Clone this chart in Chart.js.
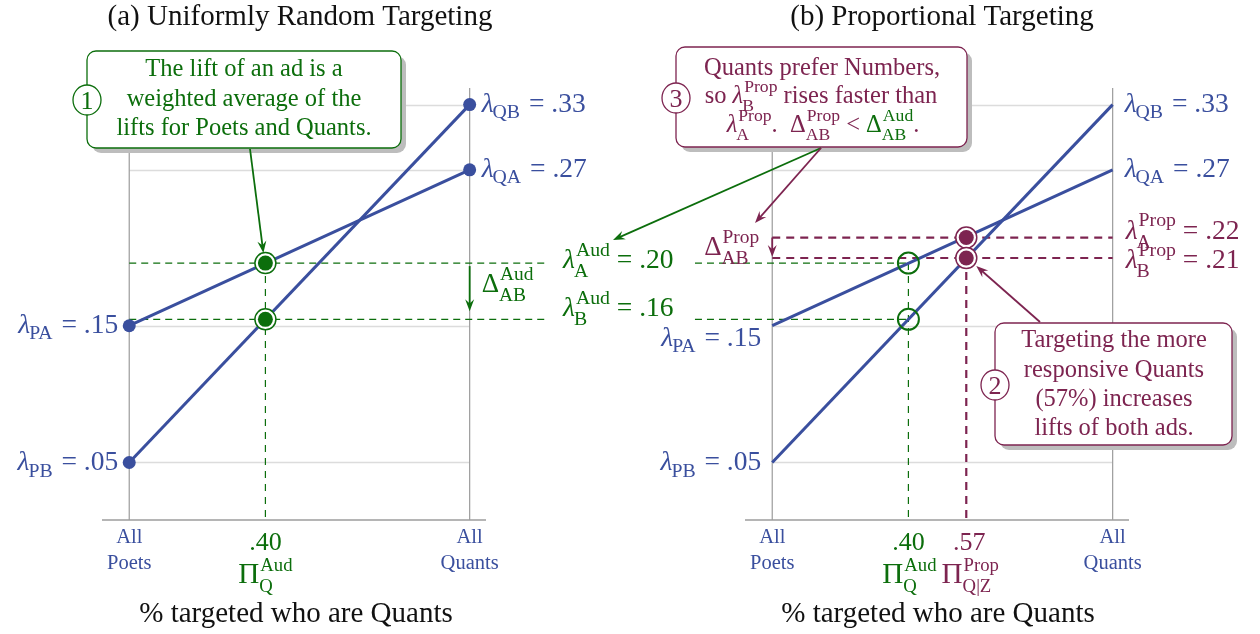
<!DOCTYPE html>
<html>
<head>
<meta charset="utf-8">
<script src="https://cdn.jsdelivr.net/npm/chart.js@4.4.0/dist/chart.umd.min.js"></script>
<style>
html, body { margin: 0; padding: 0; background: #fff; }
#wrap { position: relative; width: 1260px; height: 634px; overflow: hidden; }
canvas { position: absolute; left: 0; top: 0; }
</style>
</head>
<body>
<div id="wrap">
<canvas id="chartA" width="1260" height="634"></canvas>
<canvas id="chartB" width="1260" height="634"></canvas>
</div>
<script>
// share of Quants among the targeted: 0 = all Poets, 1 = all Quants
var shareEnds = [0, 1];
// lift of ad A and ad B at the two ends (as drawn)
var liftA = [0.157, 0.279];   // lambda_PA, lambda_QA
var liftB = [0.05, 0.33];     // lambda_PB, lambda_QB
var liftALabels = ['.15', '.27'];
var liftBLabels = ['.05', '.33'];

// audience (uniform) targeting
var audShare = 0.40;
var audLift = [0.206, 0.162];   // A, B
var audLabels = ['.20', '.16'];

// proportional targeting
var propShare = 0.57;
var propLift = [0.226, 0.21];   // A, B
var propLabels = ['.22', '.21'];

var yMin = 0.005, yMax = 0.343;
var xMin = -0.08, xMax = 1.048;

var BLUE = '#3a4f9e', GREEN = '#0c6e0c', MAROON = '#7d2450';
var GRID = '#dcdcdc', AXIS = '#9c9c9c';
var SERIF = '"Liberation Serif", "DejaVu Serif", serif';

function fnt(size, it) {
    return (it ? 'italic ' : '') + size + 'px ' + SERIF;
}

// draws text runs with optional sub/superscripts, y is the baseline
function mathRun(ctx, parts, x, y, size, color, align) {
    var ss = size * 0.72, w = 0, dims = [];
    for (var i = 0; i < parts.length; i++) {
        var p = parts[i];
        ctx.font = fnt(p.big ? size * 1.12 : size, p.it);
        var mw = ctx.measureText(p.t).width;
        ctx.font = fnt(ss, false);
        var sw = Math.max(p.sub ? ctx.measureText(p.sub).width : 0, p.sup ? ctx.measureText(p.sup).width : 0);
        if (p.sub || p.sup) sw += 1;
        dims.push([mw, sw]);
        w += mw + sw;
    }
    var cx = align === 'right' ? x - w : (align === 'center' ? x - w / 2 : x);
    ctx.textAlign = 'left';
    ctx.textBaseline = 'alphabetic';
    for (var i = 0; i < parts.length; i++) {
        var p = parts[i];
        ctx.fillStyle = p.color || color;
        ctx.font = fnt(p.big ? size * 1.12 : size, p.it);
        ctx.fillText(p.t, cx, y);
        cx += dims[i][0];
        ctx.font = fnt(ss, false);
        if (p.sub) ctx.fillText(p.sub, cx + (p.it ? -1 : 0), y + (p.sup ? 0.33 : 0.24) * size);
        if (p.sup) ctx.fillText(p.sup, cx + 1, y - 0.45 * size);
        cx += dims[i][1];
    }
    return w;
}

function text(ctx, s, x, y, size, color, align) {
    ctx.font = fnt(size, false);
    ctx.fillStyle = color;
    ctx.textAlign = align || 'center';
    ctx.textBaseline = 'alphabetic';
    ctx.fillText(s, x, y);
}

function arrow(ctx, x1, y1, x2, y2, color, lw) {
    var a = Math.atan2(y2 - y1, x2 - x1), L = 12, W = 4.5;
    var c = Math.cos(a), s = Math.sin(a);
    ctx.save();
    ctx.strokeStyle = color;
    ctx.fillStyle = color;
    ctx.lineWidth = lw || 1.6;
    ctx.setLineDash([]);
    ctx.beginPath();
    ctx.moveTo(x1, y1);
    ctx.lineTo(x2 - c * L * 0.6, y2 - s * L * 0.6);
    ctx.stroke();
    ctx.beginPath();
    ctx.moveTo(x2, y2);
    ctx.lineTo(x2 - c * L - s * W, y2 - s * L + c * W);
    ctx.lineTo(x2 - c * L * 0.65, y2 - s * L * 0.65);
    ctx.lineTo(x2 - c * L + s * W, y2 - s * L - c * W);
    ctx.closePath();
    ctx.fill();
    ctx.restore();
}

function roundRect(ctx, x, y, w, h, r) {
    ctx.beginPath();
    ctx.moveTo(x + r, y);
    ctx.lineTo(x + w - r, y);
    ctx.arcTo(x + w, y, x + w, y + r, r);
    ctx.lineTo(x + w, y + h - r);
    ctx.arcTo(x + w, y + h, x + w - r, y + h, r);
    ctx.lineTo(x + r, y + h);
    ctx.arcTo(x, y + h, x, y + h - r, r);
    ctx.lineTo(x, y + r);
    ctx.arcTo(x, y, x + r, y, r);
    ctx.closePath();
}

function callout(ctx, x, y, w, h, color, num, cy) {
    ctx.save();
    ctx.fillStyle = '#bdbdbd';
    roundRect(ctx, x + 5, y + 5, w, h, 9);
    ctx.fill();
    ctx.fillStyle = '#fff';
    ctx.strokeStyle = color;
    ctx.lineWidth = 1.3;
    roundRect(ctx, x, y, w, h, 9);
    ctx.fill();
    ctx.stroke();
    ctx.beginPath();
    ctx.ellipse(x, cy, 14, 15, 0, 0, Math.PI * 2);
    ctx.fill();
    ctx.stroke();
    text(ctx, num, x, cy + 9, 26, color);
    ctx.restore();
}

function axesPlugin() {
    return {
        id: 'axesDraw',
        beforeDatasetsDraw: function (chart) {
            var ctx = chart.ctx, xs = chart.scales.x, ys = chart.scales.y, ca = chart.chartArea;
            var x0 = xs.getPixelForValue(shareEnds[0]), x1 = xs.getPixelForValue(shareEnds[1]);
            var grid = [liftB[1], liftA[1], liftA[0], liftB[0]];
            ctx.save();
            ctx.strokeStyle = GRID;
            ctx.lineWidth = 1.3;
            for (var i = 0; i < grid.length; i++) {
                var y = Math.round(ys.getPixelForValue(grid[i])) + 0.5;
                ctx.beginPath();
                ctx.moveTo(x0, y);
                ctx.lineTo(x1, y);
                ctx.stroke();
            }
            ctx.strokeStyle = AXIS;
            ctx.lineWidth = 1.2;
            [x0, x1].forEach(function (x) {
                ctx.beginPath();
                ctx.moveTo(x, ca.top);
                ctx.lineTo(x, ca.bottom);
                ctx.stroke();
            });
            ctx.lineWidth = 1.6;
            ctx.beginPath();
            ctx.moveTo(ca.left, ca.bottom);
            ctx.lineTo(ca.right, ca.bottom);
            ctx.stroke();
            ctx.restore();
        }
    };
}

function seg(pts, color, width, dash, order) {
    return {
        data: pts, showLine: true, borderColor: color, borderWidth: width,
        borderDash: dash || [], pointRadius: 0, clip: false, order: order, fill: false
    };
}

function marks(pts, radius, fillCol, borderCol, bw, order) {
    return {
        data: pts, showLine: false, pointRadius: radius, pointBackgroundColor: fillCol,
        pointBorderColor: borderCol, pointBorderWidth: bw, order: order, clip: false
    };
}

function baseOptions(padLeft, padRight) {
    return {
        responsive: false, animation: false, events: [],
        layout: { padding: { left: padLeft, right: padRight, top: 88, bottom: 114 } },
        plugins: { legend: { display: false }, tooltip: { enabled: false } },
        scales: {
            x: { type: 'linear', min: xMin, max: xMax, display: false },
            y: { type: 'linear', min: yMin, max: yMax, display: false }
        }
    };
}

function endLines(withDots) {
    var r = withDots ? 6.5 : 0;
    return [
        {
            data: [{ x: shareEnds[0], y: liftA[0] }, { x: shareEnds[1], y: liftA[1] }],
            showLine: true, borderColor: BLUE, borderWidth: 3, pointRadius: r,
            pointBackgroundColor: BLUE, pointBorderWidth: 0, order: 4, clip: false
        },
        {
            data: [{ x: shareEnds[0], y: liftB[0] }, { x: shareEnds[1], y: liftB[1] }],
            showLine: true, borderColor: BLUE, borderWidth: 3, pointRadius: r,
            pointBackgroundColor: BLUE, pointBorderWidth: 0, order: 4, clip: false
        }
    ];
}

function lamLabel(ctx, sub, val, x, y, align) {
    mathRun(ctx, [{ t: 'λ', it: true, sub: sub }, { t: ' = ' + val }], x, y, 27.5, BLUE, align);
}

function tickLabels(ctx, xs) {
    var x0 = xs.getPixelForValue(shareEnds[0]), x1 = xs.getPixelForValue(shareEnds[1]);
    text(ctx, 'All', x0, 543, 20.5, BLUE);
    text(ctx, 'Poets', x0, 569, 20.5, BLUE);
    text(ctx, 'All', x1, 543, 20.5, BLUE);
    text(ctx, 'Quants', x1, 569, 20.5, BLUE);
}

// ---------- (a) Uniformly random targeting ----------
var leftPlugin = {
    id: 'leftNotes',
    afterDraw: function (chart) {
        var ctx = chart.ctx, xs = chart.scales.x, ys = chart.scales.y;
        var x0 = xs.getPixelForValue(0), x1 = xs.getPixelForValue(1), xa = xs.getPixelForValue(audShare);
        var yA = ys.getPixelForValue(audLift[0]), yB = ys.getPixelForValue(audLift[1]);
        ctx.save();
        text(ctx, '(a) Uniformly Random Targeting', 300, 25, 29, '#111');

        lamLabel(ctx, 'QB', liftBLabels[1], x1 + 12, ys.getPixelForValue(liftB[1]) + 7, 'left');
        lamLabel(ctx, 'QA', liftALabels[1], x1 + 12, ys.getPixelForValue(liftA[1]) + 7, 'left');
        lamLabel(ctx, 'PA', liftALabels[0], x0 - 11, ys.getPixelForValue(liftA[0]) + 7, 'right');
        lamLabel(ctx, 'PB', liftBLabels[0], x0 - 11, ys.getPixelForValue(liftB[0]) + 8, 'right');

        mathRun(ctx, [{ t: 'λ', it: true, sub: 'A', sup: 'Aud' }, { t: ' = ' + audLabels[0] }], 563, yA + 5, 27.5, GREEN, 'left');
        mathRun(ctx, [{ t: 'λ', it: true, sub: 'B', sup: 'Aud' }, { t: ' = ' + audLabels[1] }], 563, yB - 3, 27.5, GREEN, 'left');

        arrow(ctx, x1, yA + 3, x1, yB - 8, GREEN, 1.8);
        mathRun(ctx, [{ t: 'Δ', sub: 'AB', sup: 'Aud' }], x1 + 12, 292, 27, GREEN, 'left');

        tickLabels(ctx, xs);
        text(ctx, '.40', xa, 550, 26, GREEN);
        mathRun(ctx, [{ t: 'Π', big: true, sub: 'Q', sup: 'Aud' }], xa, 583, 26, GREEN, 'center');
        text(ctx, '% targeted who are Quants', 296, 622, 29, '#111');

        callout(ctx, 87, 51, 314, 97, GREEN, '1', 100);
        text(ctx, 'The lift of an ad is a', 244, 76, 24.5, GREEN);
        text(ctx, 'weighted average of the', 244, 105.5, 24.5, GREEN);
        text(ctx, 'lifts for Poets and Quants.', 244, 135, 24.5, GREEN);
        arrow(ctx, 250, 149, xa - 2, yA - 10, GREEN, 1.8);
        ctx.restore();
    }
};

var leftData = [
    seg([{ x: 0, y: audLift[0] }, { x: 1.23, y: audLift[0] }], GREEN, 1.2, [7, 5], 6),
    seg([{ x: 0, y: audLift[1] }, { x: 1.23, y: audLift[1] }], GREEN, 1.2, [7, 5], 6),
    seg([{ x: audShare, y: audLift[0] }, { x: audShare, y: yMin }], GREEN, 1.2, [7, 6], 6),
    marks([{ x: audShare, y: audLift[0] }, { x: audShare, y: audLift[1] }], 10.5, '#fff', GREEN, 1.5, 2),
    marks([{ x: audShare, y: audLift[0] }, { x: audShare, y: audLift[1] }], 7.5, GREEN, GREEN, 0, 1)
].concat(endLines(true));

new Chart(document.getElementById('chartA'), {
    type: 'scatter',
    data: { datasets: leftData },
    options: baseOptions(102, 774),
    plugins: [axesPlugin(), leftPlugin]
});

// ---------- (b) Proportional targeting ----------
var rightPlugin = {
    id: 'rightNotes',
    afterDraw: function (chart) {
        var ctx = chart.ctx, xs = chart.scales.x, ys = chart.scales.y;
        var x0 = xs.getPixelForValue(0), x1 = xs.getPixelForValue(1);
        var xa = xs.getPixelForValue(audShare), xp = xs.getPixelForValue(propShare);
        var pA = ys.getPixelForValue(propLift[0]), pB = ys.getPixelForValue(propLift[1]);
        ctx.save();
        text(ctx, '(b) Proportional Targeting', 942, 25, 29, '#111');

        lamLabel(ctx, 'QB', liftBLabels[1], x1 + 12, ys.getPixelForValue(liftB[1]) + 7, 'left');
        lamLabel(ctx, 'QA', liftALabels[1], x1 + 12, ys.getPixelForValue(liftA[1]) + 7, 'left');
        lamLabel(ctx, 'PA', liftALabels[0], x0 - 11, ys.getPixelForValue(liftA[0]) + 20, 'right');
        lamLabel(ctx, 'PB', liftBLabels[0], x0 - 11, ys.getPixelForValue(liftB[0]) + 8, 'right');

        mathRun(ctx, [{ t: 'λ', it: true, sub: 'A', sup: 'Prop' }, { t: ' = ' + propLabels[0] }], x1 + 13, pA + 1, 27.5, MAROON, 'left');
        mathRun(ctx, [{ t: 'λ', it: true, sub: 'B', sup: 'Prop' }, { t: ' = ' + propLabels[1] }], x1 + 13, pB + 10, 27.5, MAROON, 'left');

        arrow(ctx, x0, pA, x0, pB - 1, MAROON, 1.8);
        mathRun(ctx, [{ t: 'Δ', sub: 'AB', sup: 'Prop' }], x0 - 13, 255, 27, MAROON, 'right');

        tickLabels(ctx, xs);
        text(ctx, '.40', xa, 550, 26, GREEN);
        text(ctx, '.57', xp + 3, 550, 26, MAROON);
        mathRun(ctx, [{ t: 'Π', big: true, sub: 'Q', sup: 'Aud' }], xa + 1, 583, 26, GREEN, 'center');
        mathRun(ctx, [{ t: 'Π', big: true, sub: 'Q|Z', sup: 'Prop' }], xp + 4, 583, 26, MAROON, 'center');
        text(ctx, '% targeted who are Quants', 938, 622, 29, '#111');

        callout(ctx, 676, 47, 291, 100, MAROON, '3', 98);
        text(ctx, 'Quants prefer Numbers,', 822, 75, 24.5, MAROON);
        mathRun(ctx, [{ t: 'so ' }, { t: 'λ', it: true, sub: 'B', sup: 'Prop' }, { t: ' rises faster than' }], 821, 103, 24.5, MAROON, 'center');
        mathRun(ctx, [{ t: 'λ', it: true, sub: 'A', sup: 'Prop' }, { t: '.  Δ' , sub: 'AB', sup: 'Prop' }, { t: ' < ' },
            { t: 'Δ', sub: 'AB', sup: 'Aud', color: GREEN }, { t: '.' }], 823, 132, 24.5, MAROON, 'center');
        arrow(ctx, 821, 148, 613, 240, GREEN, 1.8);
        arrow(ctx, 821, 148, 755, 223, MAROON, 1.8);

        callout(ctx, 995, 323, 237, 122, MAROON, '2', 385);
        text(ctx, 'Targeting the more', 1114, 347, 24.5, MAROON);
        text(ctx, 'responsive Quants', 1114, 376.5, 24.5, MAROON);
        text(ctx, '(57%) increases', 1114, 406, 24.5, MAROON);
        text(ctx, 'lifts of both ads.', 1114, 435, 24.5, MAROON);
        arrow(ctx, 1040, 322, xp + 10, pB + 8, MAROON, 1.8);
        ctx.restore();
    }
};

var rightData = [
    seg([{ x: -0.227, y: audLift[0] }, { x: audShare, y: audLift[0] }], GREEN, 1.2, [7, 5], 7),
    seg([{ x: -0.227, y: audLift[1] }, { x: audShare, y: audLift[1] }], GREEN, 1.2, [7, 5], 7),
    seg([{ x: audShare, y: audLift[0] }, { x: audShare, y: yMin }], GREEN, 1.2, [7, 6], 7),
    seg([{ x: 0, y: propLift[0] }, { x: 1, y: propLift[0] }], MAROON, 2.2, [8, 6], 6),
    seg([{ x: 0, y: propLift[1] }, { x: 1, y: propLift[1] }], MAROON, 2.2, [8, 6], 6),
    seg([{ x: propShare, y: propLift[1] }, { x: propShare, y: yMin }], MAROON, 2.2, [8, 6], 6),
    marks([{ x: audShare, y: audLift[0] }, { x: audShare, y: audLift[1] }], 10.5, 'rgba(0,0,0,0)', GREEN, 2, 3),
    marks([{ x: propShare, y: propLift[0] }, { x: propShare, y: propLift[1] }], 10.5, '#fff', MAROON, 1.5, 2),
    marks([{ x: propShare, y: propLift[0] }, { x: propShare, y: propLift[1] }], 7.5, MAROON, MAROON, 0, 1)
].concat(endLines(false));

new Chart(document.getElementById('chartB'), {
    type: 'scatter',
    data: { datasets: rightData },
    options: baseOptions(745, 131),
    plugins: [axesPlugin(), rightPlugin]
});
</script>
</body>
</html>
